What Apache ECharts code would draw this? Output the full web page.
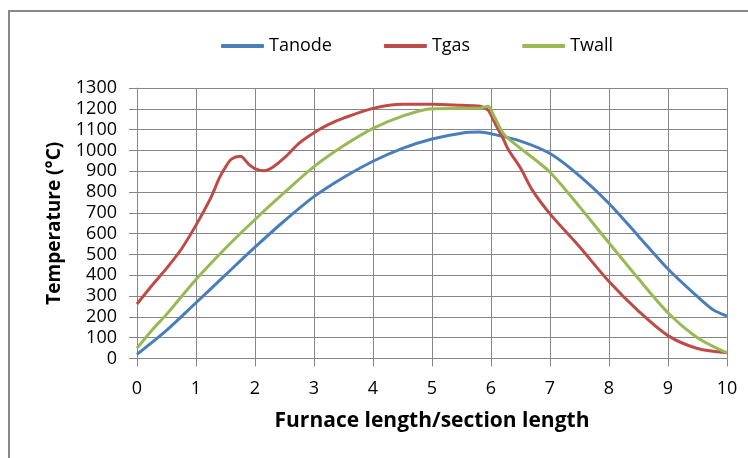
<!DOCTYPE html>
<html>
<head>
<meta charset="utf-8">
<script src="https://cdn.jsdelivr.net/npm/echarts@6/dist/echarts.min.js"></script>
<style>html,body{margin:0;padding:0;background:#fff;}#c{width:748px;height:458px;}</style>
</head>
<body>
<div id="c"></div>
<script>
var seriesNames = ['Tanode', 'Tgas', 'Twall'];
var xTicks = [0,1,2,3,4,5,6,7,8,9,10];

var tanodeX = [0,0.5,1,1.5,2,2.5,3,3.5,4,4.5,5,5.5,5.8,6,6.5,7,7.5,8,8.5,9,9.5,9.75,10];
var tanodeY = [20,135,268,402,535,662,778,870,948,1010,1055,1083,1088,1080,1045,985,878,745,588,430,297,237,204];

var tgasX = [0,0.25,0.5,0.75,1,1.25,1.4,1.5,1.6,1.75,1.9,2,2.15,2.3,2.5,2.75,3,3.25,3.5,4,4.5,5,5.5,5.8,5.95,6,6.1,6.2,6.3,6.5,6.7,7,7.5,8,8.5,9,9.5,10];
var tgasY = [262,350,433,525,641,772,870,920,958,972,932,913,902,919,965,1035,1085,1125,1155,1202,1222,1222,1217,1213,1194,1170,1113,1059,1001,915,809,695,537,370,228,110,48,28];

var twallX = [0,0.25,0.5,1,1.5,2,2.5,3,3.5,4,4.5,5,5.5,5.8,5.95,6.05,6.2,6.3,6.5,6.75,7,7.25,7.5,8,8.5,9,9.5,10];
var twallY = [50,135,212,380,530,668,798,922,1022,1106,1165,1200,1202,1203,1212,1165,1085,1055,1010,955,895,815,730,555,383,220,100,27];

function pairs(xs, ys) { return xs.map(function (x, i) { return [x, ys[i]]; }); }

var colors = ['#4A7EBB', '#BE4B48', '#98B954'];
var font = '"Open Sans", sans-serif';

var chart = echarts.init(document.getElementById('c'));
chart.setOption({
  animation: false,
  color: colors,
  graphic: [{
    type: 'rect', shape: { x: 9, y: 11, width: 800, height: 500 },
    style: { fill: 'none', stroke: '#888888', lineWidth: 2 }, silent: true
  }],
  legend: {
    left: 216, top: 32,
    icon: 'roundRect', itemWidth: 43, itemHeight: 4, itemGap: 52,
    textStyle: { fontFamily: font, fontSize: 18, color: '#000' },
    data: seriesNames
  },
  grid: { left: 137, right: 21, top: 88, bottom: 99.5 },
  xAxis: {
    type: 'value', min: 0, max: 10, interval: 1,
    name: 'Furnace length/section length', nameLocation: 'middle', nameGap: 52,
    nameTextStyle: { fontFamily: font, fontSize: 21, fontWeight: 'bold', color: '#000' },
    axisLine: { show: true, lineStyle: { color: '#868686', width: 1 } },
    axisTick: { show: true, length: 8, lineStyle: { color: '#868686' } },
    axisLabel: { fontFamily: font, fontSize: 18, color: '#000', margin: 21,
      customValues: xTicks },
    splitLine: { show: true, lineStyle: { color: '#868686', width: 1 } }
  },
  yAxis: {
    type: 'value', min: 0, max: 1300, interval: 100,
    name: 'Temperature (°C)', nameLocation: 'middle', nameGap: 73,
    nameTextStyle: { fontFamily: font, fontSize: 19, fontWeight: 'bold', color: '#000' },
    axisLine: { show: true, lineStyle: { color: '#868686', width: 1 } },
    axisTick: { show: true, length: 8, lineStyle: { color: '#868686' } },
    axisLabel: { fontFamily: font, fontSize: 18, color: '#000', margin: 20,
      formatter: function (v) { return String(v); } },
    splitLine: { show: true, lineStyle: { color: '#868686', width: 1 } }
  },
  series: [
    { name: seriesNames[0], type: 'line', data: pairs(tanodeX, tanodeY), smooth: 0.3, showSymbol: false, lineStyle: { width: 3 } },
    { name: seriesNames[1], type: 'line', data: pairs(tgasX, tgasY), smooth: 0.3, showSymbol: false, lineStyle: { width: 3 } },
    { name: seriesNames[2], type: 'line', data: pairs(twallX, twallY), smooth: 0.3, showSymbol: false, lineStyle: { width: 3 } }
  ]
});
</script>
</body>
</html>
